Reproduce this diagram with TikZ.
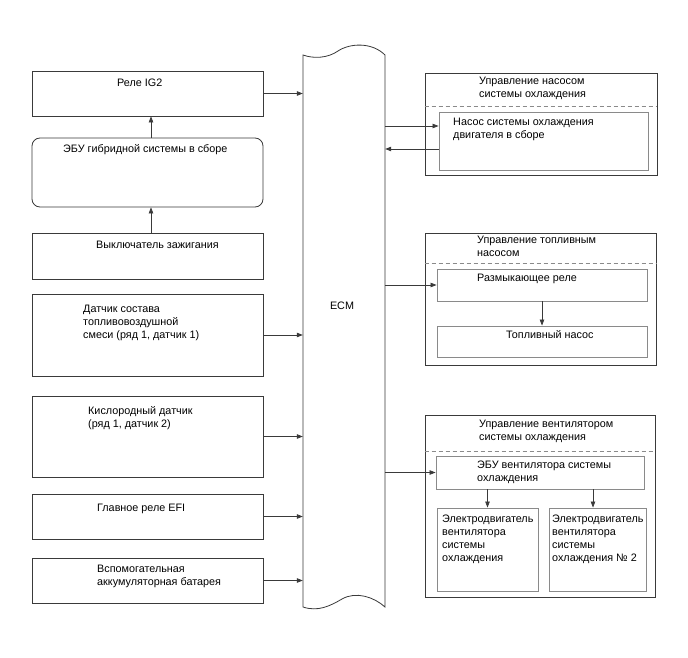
\documentclass[tikz,border=0pt]{standalone}
\usepackage{fontspec}
\setmainfont{Liberation Sans}
\usetikzlibrary{arrows.meta,calc}
\definecolor{linec}{HTML}{3A3A3A}
\definecolor{innerc}{HTML}{8A8A8A}
\newcommand{\mylines}[1]{\begin{tabular}[t]{@{}l@{}}#1\end{tabular}}
\begin{document}
\begin{tikzpicture}[x=1pt,y=-1pt,
  box/.style={draw=linec, line width=0.8pt, inner sep=0pt, rectangle},
  rbox/.style={box, rounded corners=8pt},
  ibox/.style={draw=innerc, line width=0.9pt, inner sep=0pt, rectangle},
  lbl/.style={anchor=base west, inner sep=0pt, font=\fontsize{10.8}{13}\selectfont},
  edge/.style={draw=linec, line width=0.7pt, -{Triangle[length=6pt,width=4.5pt]}},
  sep/.style={draw=innerc, line width=0.9pt, dash pattern=on 4pt off 3pt}]
\fill[white] (0,0) rectangle (688,658);
\useasboundingbox (0,0) rectangle (688,658);

% left column
\node[box, minimum width=231pt, minimum height=45pt] (ig2) at (147.5,93.5) {};
\node[rbox, minimum width=231pt, minimum height=69pt] (hv) at (147.5,172.5) {};
\node[box, minimum width=231pt, minimum height=46pt] (ign) at (147.5,256) {};
\node[box, minimum width=231pt, minimum height=82pt] (afs) at (147.5,335) {};
\node[box, minimum width=231pt, minimum height=81pt] (oxy) at (147.5,436.5) {};
\node[box, minimum width=231pt, minimum height=45pt] (efi) at (147.5,516.5) {};
\node[box, minimum width=231pt, minimum height=45pt] (aux) at (147.5,580.5) {};

\node[lbl] (tig2) at (117,87) {Реле IG2};
\node[lbl] (thv) at (63,153) {ЭБУ гибридной системы в сборе};
\node[lbl] (tign) at (96,248) {Выключатель зажигания};
\node[lbl] (tafs) at (83,312) {\mylines{Датчик состава\\топливовоздушной\\смеси (ряд 1, датчик 1)}};
\node[lbl] (toxy) at (88,414) {\mylines{Кислородный датчик\\(ряд 1, датчик 2)}};
\node[lbl] (tefi) at (97,511) {Главное реле EFI};
\node[lbl] (taux) at (97,572) {\mylines{Вспомогательная\\аккумуляторная батарея}};

% ECM
\node[minimum width=82pt, minimum height=552pt, inner sep=0pt] (ecm) at (344,331) {};
\draw[linec, line width=0.8pt]
  (303,55) .. controls (314,59) and (328,58) .. (338,51)
  .. controls (350,43) and (372,42) .. (385,55)
  -- (385,607)
  .. controls (374,597) and (356,591) .. (342,599)
  .. controls (330,606) and (318,612) .. (303,607) -- cycle;
\node[lbl, anchor=base] (tecm) at (342,309) {ECM};

% right groups
\node[box, minimum width=232pt, minimum height=102pt] (g1) at (541,124) {};
\draw[sep] (g1.west |- 0,106) -- (g1.east |- 0,106);
\node[ibox, minimum width=209pt, minimum height=58pt] (pump) at (543.5,141) {};
\node[lbl] (tg1) at (479,85) {\mylines{Управление насосом\\системы охлаждения}};
\node[lbl] (tpump) at (453,126) {\mylines{Насос системы охлаждения\\двигателя в сборе}};

\node[box, minimum width=231pt, minimum height=132pt] (g2) at (540.5,299) {};
\draw[sep] (g2.west |- 0,263) -- (g2.east |- 0,263);
\node[ibox, minimum width=210pt, minimum height=32pt] (cor) at (542,285) {};
\node[ibox, minimum width=210pt, minimum height=31pt] (fp) at (542,341.5) {};
\node[lbl] (tg2) at (477,243) {\mylines{Управление топливным\\насосом}};
\node[lbl] (tcor) at (477,281) {Размыкающее реле};
\node[lbl] (tfp) at (506,338) {Топливный насос};

\node[box, minimum width=230pt, minimum height=182pt] (g3) at (540,506) {};
\draw[sep] (g3.west |- 0,451) -- (g3.east |- 0,451);
\node[ibox, minimum width=208pt, minimum height=33pt] (fecu) at (540,472.5) {};
\node[ibox, minimum width=101pt, minimum height=83pt] (m1) at (487.5,549.5) {};
\node[ibox, minimum width=97pt, minimum height=83pt] (m2) at (597.5,549.5) {};
\node[lbl] (tg3) at (479,427) {\mylines{Управление вентилятором\\системы охлаждения}};
\node[lbl] (tfecu) at (477,468) {\mylines{ЭБУ вентилятора системы\\охлаждения}};
\node[lbl] (tm1) at (442,522) {\mylines{Электродвигатель\\вентилятора\\системы\\охлаждения}};
\node[lbl] (tm2) at (552,522) {\mylines{Электродвигатель\\вентилятора\\системы\\охлаждения № 2}};

% connectors left
\draw[edge] ($(hv.north)+(3.5,0)$) -- ($(ig2.south)+(3.5,0)$);
\draw[edge] ($(ign.north)+(3.5,0)$) -- ($(hv.south)+(3.5,0)$);
\draw[edge] (ig2.east) -- (ig2.east -| ecm.west);
\draw[edge] (afs.east) -- (afs.east -| ecm.west);
\draw[edge] (oxy.east) -- (oxy.east -| ecm.west);
\draw[edge] (efi.east) -- (efi.east -| ecm.west);
\draw[edge] (aux.east) -- (aux.east -| ecm.west);

% connectors right
\coordinate (ya) at (0,126);
\coordinate (yb) at (0,149);
\draw[edge] (ecm.east |- ya) -- (pump.west |- ya);
\draw[edge] (pump.west |- yb) -- (ecm.east |- yb);
\draw[edge] (ecm.east |- cor.west) -- (cor.west);
\draw[edge] (cor.south) -- (fp.north);
\draw[edge] (ecm.east |- fecu.west) -- (fecu.west);
\draw[edge] (fecu.south -| m1.north) -- (m1.north);
\draw[edge] ($(fecu.south -| m2.north)+(-4.5,0)$) -- ($(m2.north)+(-4.5,0)$);
\end{tikzpicture}
\end{document}
